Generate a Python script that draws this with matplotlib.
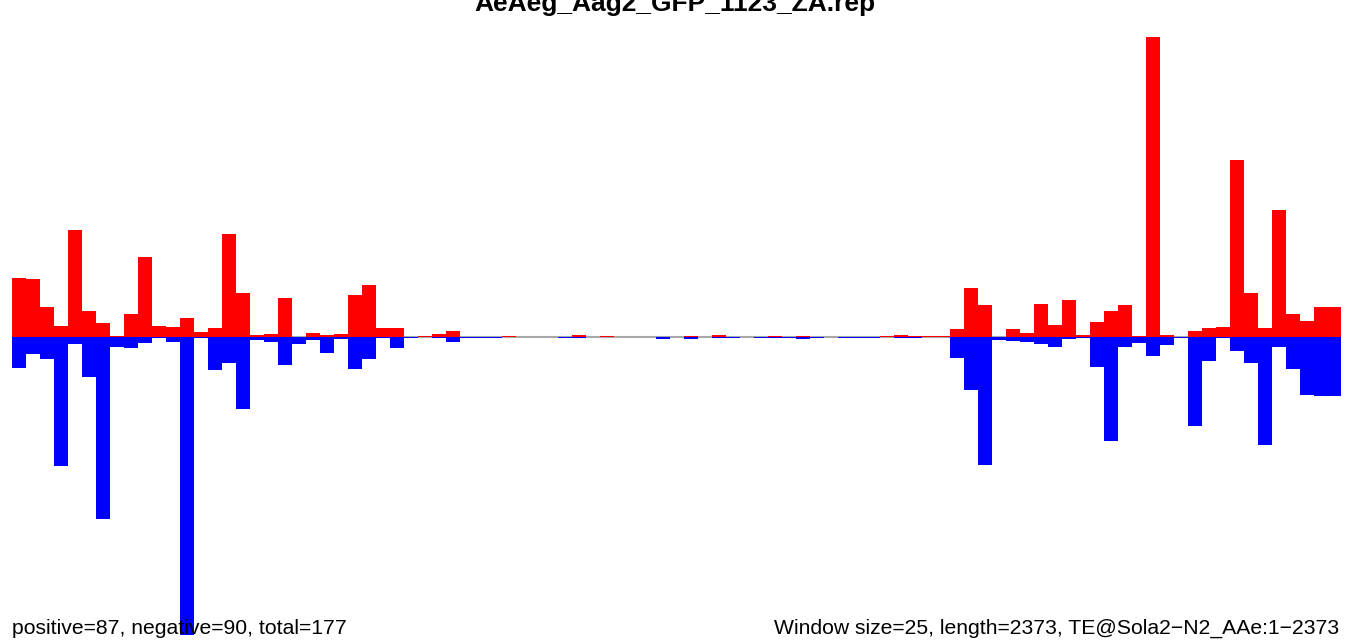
import numpy as np
import matplotlib
matplotlib.use("Agg")
import matplotlib.pyplot as plt

plt.rcParams['font.family'] = ['Liberation Sans', 'DejaVu Sans']

TITLE = "AeAeg_Aag2_GFP_1123_ZA.rep"
WINDOW = 25
LENGTH = 2373
TE_NAME = "TE@Sola2\u2212N2_AAe:1\u22122373"
N_POS = 87
N_NEG = 90

# per-window signal, sense strand (drawn up, red)
pos = [59, 58, 30, 11, 107, 26, 14, 1, 23, 80,
       11, 10, 19, 5, 9, 103, 44, 2, 3, 39,
       0, 4, 2, 3, 42, 52, 9, 9, 0, 1,
       3, 6, 0, 0, 0, 1, 0, 0, 0, 0,
       2, 0, 1, 0, 0, 0, 0, 0, 1, 0,
       2, 0, 0, 0, 1, 0, 1, 0, 0, 0,
       0, 0, 1, 2, 1, 1, 1, 8, 49, 32,
       0, 8, 4, 33, 12, 37, 2.3, 15, 26, 32,
       1, 300, 2.3, 0, 6, 9, 10, 177, 44, 9,
       127, 23, 16, 30, 30]

# per-window signal, antisense strand (drawn down, blue)
neg = [30.7, 16.7, 21.7, 128.7, 6.7, 39.7, 181.7, 9.7, 10.7, 5.7,
       1, 4.7, 298, 1, 32.7, 25.7, 71.7, 2.7, 4.7, 27.7,
       6.7, 2.7, 15.7, 1.7, 31.7, 21.7, 1, 10.7, 1, 0,
       1, 4.7, 1, 1, 1, 0, 0, 0, 0, 1,
       1, 0, 0, 0, 0, 0, 2, 0, 2, 0,
       1, 1, 0, 1, 1, 1, 2, 1, 0, 1,
       1, 1, 0, 1, 1, 0, 0, 21, 52.7, 127.7,
       2.5, 3.7, 5, 6.7, 10, 2, 1, 30, 104, 10,
       6, 19, 7.7, 1, 89, 24, 1, 14, 26, 108,
       10, 32, 58, 59, 59]

pos = np.array(pos, dtype=float)
neg = np.array(neg, dtype=float)

starts = np.arange(len(pos)) * WINDOW
widths = np.minimum(WINDOW, LENGTH - starts)

fig = plt.figure(figsize=(13.52, 6.41), dpi=100)
ax = fig.add_axes([12 / 1352, 4 / 641, 1328.9 / 1352, 600 / 641])

ymax = max(pos.max(), neg.max())

# zero line underneath the bars
ax.axhline(0, color='#a8a8a8', lw=1.5, zorder=1)
ax.bar(starts, pos, width=widths, align='edge', color='#ff0000', linewidth=0, zorder=2)
ax.bar(starts, -neg, width=widths, align='edge', color='#0000ff', linewidth=0, zorder=2)

ax.set_xlim(0, LENGTH)
ax.set_ylim(-ymax, ymax)
ax.axis('off')

# title sits partly above the top edge, as in the original
fig.text(674.5 / 1352, 1 - 11 / 641, TITLE, ha='center', va='baseline',
         fontsize=19, fontweight='bold')
fig.text(12 / 1352, 1 - 634 / 641,
         "positive=%d, negative=%d, total=%d" % (N_POS, N_NEG, N_POS + N_NEG),
         ha='left', va='baseline', fontsize=15.25, zorder=5)
fig.text(1339 / 1352, 1 - 634 / 641,
         "Window size=%d, length=%d, %s" % (WINDOW, LENGTH, TE_NAME),
         ha='right', va='baseline', fontsize=15.25, zorder=5)

fig.savefig("out.png", dpi=100)
